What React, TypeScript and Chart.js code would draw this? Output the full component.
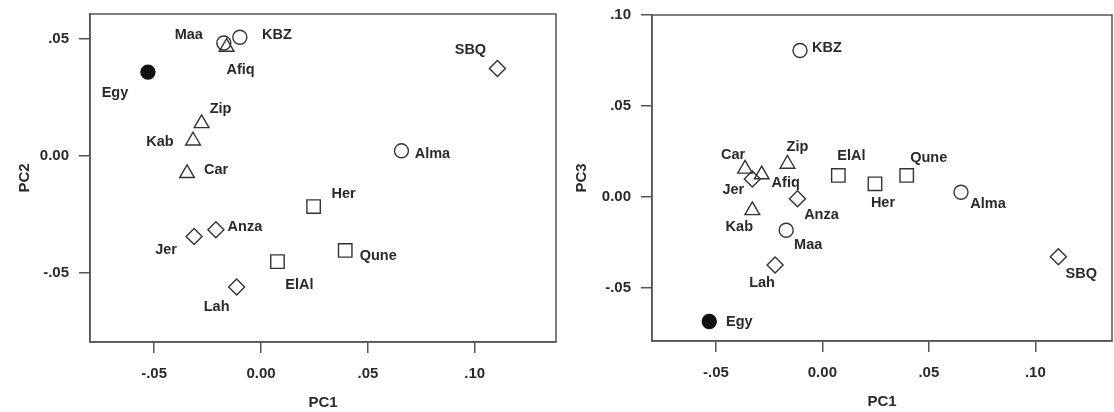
import React, { useEffect, useRef } from 'react';
import { Chart, registerables } from 'chart.js';

Chart.register(...registerables);

// ---- data ----
const sites = ['Egy', 'Maa', 'KBZ', 'Alma', 'Afiq', 'Zip', 'Kab', 'Car', 'Her', 'Qune', 'ElAl', 'SBQ', 'Anza', 'Jer', 'Lah'];

const filledCircleSites = ['Egy'];
const circleSites = ['Maa', 'KBZ', 'Alma'];
const triangleSites = ['Afiq', 'Zip', 'Kab', 'Car'];
const squareSites = ['Her', 'Qune', 'ElAl'];
const diamondSites = ['SBQ', 'Anza', 'Jer', 'Lah'];

// Panel A: PC1 vs PC2
const pc1A = [-0.0529, -0.0174, -0.0099, 0.0657, -0.0161, -0.0278, -0.0318, -0.0346, 0.0246, 0.0394, 0.0077, 0.1106, -0.0211, -0.0313, -0.0114];
const pc2A = [0.0357, 0.0481, 0.0506, 0.0021, 0.0464, 0.0138, 0.0064, -0.0075, -0.0217, -0.0404, -0.0452, 0.0372, -0.0316, -0.0345, -0.056];

// Panel B: PC1 vs PC3
const pc1B = [-0.0531, -0.017, -0.0105, 0.0651, -0.0285, -0.0164, -0.0329, -0.0363, 0.0247, 0.0396, 0.0075, 0.1108, -0.0117, -0.0329, -0.0222];
const pc3B = [-0.0683, -0.0182, 0.0805, 0.0027, 0.0124, 0.0182, -0.0073, 0.0155, 0.0073, 0.0119, 0.0119, -0.0328, -0.0009, 0.01, -0.0373];

const xTickValues = [-0.05, 0, 0.05, 0.1];
const xTickLabels = ['-.05', '0.00', '.05', '.10'];
const yTickValuesA = [-0.05, 0, 0.05];
const yTickLabelsA = ['-.05', '0.00', '.05'];
const yTickValuesB = [-0.05, 0, 0.05, 0.1];
const yTickLabelsB = ['-.05', '0.00', '.05', '.10'];

// ---- label placement (pixel offsets from marker, same order as sites) ----
const labelOffsetsA: [number, number][] = [
  [-33, 21], [-35, -8], [37, -2], [31, 3], [14, 23], [19, -14], [-33, 1], [29, -3],
  [30, -13], [33, 6], [22, 23], [-27, -19], [29, -3], [-28, 13], [-20, 20],
];
const labelOffsetsB: [number, number][] = [
  [30, 0], [22, 15], [27, -3], [27, 12], [24, 8], [10, -17], [-13, 17], [-12, -14],
  [8, 19], [22, -17], [13, -19], [23, 17], [24, 16], [-19, 11], [-13, 18],
];

const INK = '#2a2a2a';
const LINE = '#555';
const FONT = '"Liberation Sans", Arial, Helvetica, sans-serif';

function lookupLabel(values: number[], labels: string[], v: number) {
  const i = values.findIndex((t) => Math.abs(t - v) < 1e-9);
  return i >= 0 ? labels[i] : '';
}

type PanelProps = {
  xs: number[];
  ys: number[];
  offsets: [number, number][];
  xMin: number;
  xMax: number;
  yMin: number;
  yMax: number;
  yTicks: number[];
  yTickLabels: string[];
  yTitle: string;
  left: number;
  width: number;
  padTop: number;
  padRight: number;
  yAxisWidth: number;
  xAxisHeight: number;
  yTitlePad: number;
  xTitlePad: number;
};

function Panel(p: PanelProps) {
  const ref = useRef<HTMLCanvasElement | null>(null);
  useEffect(() => {
    if (!ref.current) return;
    const mk = (group: string[]) =>
      group.map((n) => {
        const i = sites.indexOf(n);
        return { x: p.xs[i], y: p.ys[i], label: n, idx: i };
      });
    const base = { borderColor: '#333', borderWidth: 1.4, backgroundColor: 'rgba(255,255,255,0)', showLine: false };
    const datasets: any[] = [
      { ...base, data: mk(circleSites), pointStyle: 'circle', pointRadius: 7 },
      { ...base, data: mk(triangleSites), pointStyle: 'triangle', pointRadius: 8.5 },
      { ...base, data: mk(squareSites), pointStyle: 'rect', pointRadius: 9.5 },
      { ...base, data: mk(diamondSites), pointStyle: 'rectRot', pointRadius: 8 },
      { ...base, data: mk(filledCircleSites), pointStyle: 'circle', pointRadius: 7, backgroundColor: '#111', borderColor: '#111' },
    ];

    const labelPlugin = {
      id: 'ptLabels',
      afterDatasetsDraw(chart: any) {
        const ctx = chart.ctx;
        ctx.save();
        ctx.fillStyle = INK;
        ctx.font = `bold 14.5px ${FONT}`;
        ctx.textAlign = 'center';
        ctx.textBaseline = 'middle';
        chart.data.datasets.forEach((ds: any, di: number) => {
          const meta = chart.getDatasetMeta(di);
          meta.data.forEach((el: any, j: number) => {
            const raw = ds.data[j];
            const off = p.offsets[raw.idx];
            ctx.fillText(raw.label, el.x + off[0], el.y + off[1]);
          });
        });
        ctx.restore();
      },
    };
    const boxPlugin = {
      id: 'box',
      afterDraw(chart: any) {
        const { ctx, chartArea: a } = chart;
        ctx.save();
        ctx.strokeStyle = LINE;
        ctx.lineWidth = 1.5;
        ctx.strokeRect(a.left, a.top, a.right - a.left, a.bottom - a.top);
        ctx.restore();
      },
    };

    const chart = new Chart(ref.current, {
      type: 'scatter',
      data: { datasets },
      plugins: [labelPlugin, boxPlugin],
      options: {
        responsive: false,
        animation: false,
        layout: { autoPadding: false, padding: { left: 0, top: p.padTop, right: p.padRight, bottom: 0 } },
        plugins: { legend: { display: false }, tooltip: { enabled: false } },
        scales: {
          x: {
            type: 'linear',
            min: p.xMin,
            max: p.xMax,
            afterBuildTicks: (sc: any) => {
              sc.ticks = xTickValues.map((v) => ({ value: v }));
            },
            afterFit: (sc: any) => {
              sc.height = p.xAxisHeight;
              sc.paddingLeft = 0;
              sc.paddingRight = 0;
            },
            ticks: {
              autoSkip: false,
              maxRotation: 0,
              padding: 12,
              color: INK,
              font: { family: FONT, size: 15, weight: 'bold' },
              callback: (v: any) => lookupLabel(xTickValues, xTickLabels, Number(v)),
            },
            grid: { drawOnChartArea: false, drawTicks: true, tickLength: 11, color: LINE, lineWidth: 1.5 },
            border: { display: true, color: LINE, width: 1.5 },
            title: {
              display: true,
              text: 'PC1',
              color: INK,
              font: { family: FONT, size: 15, weight: 'bold' },
              padding: { top: 0, bottom: p.xTitlePad },
            },
          },
          y: {
            type: 'linear',
            min: p.yMin,
            max: p.yMax,
            afterBuildTicks: (sc: any) => {
              sc.ticks = p.yTicks.map((v) => ({ value: v }));
            },
            afterFit: (sc: any) => {
              sc.width = p.yAxisWidth;
              sc.paddingTop = 0;
              sc.paddingBottom = 0;
            },
            ticks: {
              autoSkip: false,
              padding: 10,
              color: INK,
              font: { family: FONT, size: 15, weight: 'bold' },
              callback: (v: any) => lookupLabel(p.yTicks, p.yTickLabels, Number(v)),
            },
            grid: { drawOnChartArea: false, drawTicks: true, tickLength: 11, color: LINE, lineWidth: 1.5 },
            border: { display: true, color: LINE, width: 1.5 },
            title: {
              display: true,
              text: p.yTitle,
              color: INK,
              font: { family: FONT, size: 15, weight: 'bold' },
              padding: { top: p.yTitlePad, bottom: 0 },
            },
          },
        },
      } as any,
    });
    return () => chart.destroy();
  }, []);
  return (
    <canvas
      ref={ref}
      width={p.width}
      height={412}
      style={{ position: 'absolute', left: p.left, top: 0, width: p.width, height: 412, display: 'block' }}
    />
  );
}

export default function App() {
  return (
    <div style={{ position: 'absolute', left: 0, top: 0, width: 1114, height: 412, background: '#fff', overflow: 'hidden' }}>
      <Panel
        xs={pc1A}
        ys={pc2A}
        offsets={labelOffsetsA}
        xMin={-0.08}
        xMax={0.138}
        yMin={-0.0795}
        yMax={0.0605}
        yTicks={yTickValuesA}
        yTickLabels={yTickLabelsA}
        yTitle="PC2"
        left={0}
        width={560}
        padTop={14}
        padRight={4}
        yAxisWidth={90}
        xAxisHeight={70}
        yTitlePad={16}
        xTitlePad={0}
      />
      <Panel
        xs={pc1B}
        ys={pc3B}
        offsets={labelOffsetsB}
        xMin={-0.08}
        xMax={0.136}
        yMin={-0.079}
        yMax={0.1}
        yTicks={yTickValuesB}
        yTickLabels={yTickLabelsB}
        yTitle="PC3"
        left={560}
        width={554}
        padTop={15}
        padRight={2}
        yAxisWidth={92}
        xAxisHeight={71}
        yTitlePad={13}
        xTitlePad={1}
      />
    </div>
  );
}
